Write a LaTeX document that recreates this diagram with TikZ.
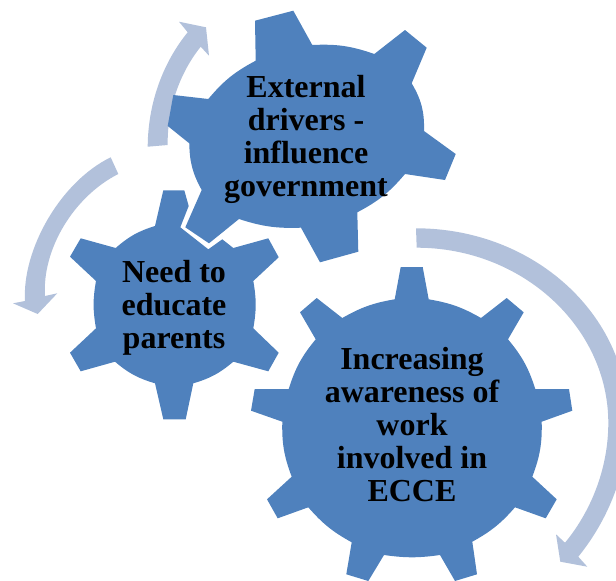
\documentclass[tikz,border=0pt]{standalone}
\usepackage{fontspec}
\setmainfont{Liberation Serif}
\tikzset{
  gearshape/.style={fill=gearblue,draw=none},
  flowarrow/.style={fill=arrowblue,draw=none},
  gearlabel/.style={align=center,font=\fontsize{32}{33}\selectfont\bfseries,text=black,inner sep=0pt},
  arc/.style={bend left=#1}
}
\definecolor{gearblue}{HTML}{4F81BD}
\definecolor{arrowblue}{HTML}{B2C1DB}
\begin{document}
\begin{tikzpicture}[x=1pt,y=-1pt]
\useasboundingbox (0,0) rectangle (616,581);
\clip (0,0) rectangle (616,581);
% arrows
\fill[flowarrow] (147.7,146.7) .. controls (148,100) and (165,60) .. (187.7,32.3)
  -- (179,21.7) -- (206,27.3) -- (209,55.7) -- (200.7,46.7)
  .. controls (182,70) and (167,105) .. (167.7,145) -- cycle;
\fill[flowarrow] (110.7,157.3) .. controls (60,182) and (22,250) .. (25,301)
  -- (13,303.3) -- (37.7,314) -- (57.3,293.3) -- (45,296)
  .. controls (42,250) and (73,197) .. (118.3,174) -- cycle;
\fill[flowarrow] (416,228.3) .. controls (533,228.3) and (628,314) .. (628,420)
  .. controls (628,472) and (608,520) .. (578.3,556.7)
  -- (587.3,566.7) -- (560.3,561.7) -- (556,534.3) -- (565,542.7)
  .. controls (592,510) and (608.3,467) .. (608.3,423)
  .. controls (608.3,327) and (522,247.7) .. (416.7,247.7) -- cycle;
% gear: external drivers
\fill[gearshape] (255,20.7) -- (293.3,10.7) -- (312.3,45)
  to[arc=11] (374.3,54) -- (405,30) -- (426.7,47.7) -- (411.7,83.3)
  to[arc=16] (424,131) -- (455.7,154) -- (445,180) -- (405,174)
  to[arc=11] (357.3,212.3) -- (358.3,251.7) -- (320,262.3) -- (301,227.7)
  to[arc=10] (239,219) -- (209,243.3) -- (185.3,227.3) -- (201.7,190)
  to[arc=14] (189.3,143.3) -- (167.7,126) -- (173.3,95) -- (208.3,99)
  to[arc=11] (255.7,60.7) -- cycle;
% gear: need to educate parents
\fill[gearshape] (163.3,190.3) -- (184.3,190.3) -- (188.7,206) -- (180.3,227.3)
  -- (208.3,249.3) -- (222.3,239.3) -- (233.3,248) -- (268.3,238.3)
  -- (278.7,257.3) -- (253.3,281) to[arc=10] (253.3,328.3)
  -- (278.7,352.7) -- (268.3,371.3) -- (233.3,361.7) to[arc=12] (193.3,383.3)
  -- (185.7,419.3) -- (163.3,419.3) -- (155,383.3) to[arc=12] (115,361.7)
  -- (80.7,371.3) -- (70,352.7) -- (96,328.3) to[arc=10] (96,281)
  -- (70,256.7) -- (80.7,238.3) -- (115.7,248) to[arc=12] (155,226) -- cycle;
% gear: increasing awareness
\fill[gearshape] (400.7,267) -- (422.7,267) -- (428.7,299.3) to[arc=10] (481,318)
  -- (506.7,298) -- (523.7,312.3) -- (508,339.3) to[arc=11] (535.3,389)
  -- (569,389) -- (572.3,410.7) -- (541.7,421.7) to[arc=11] (532.3,476.7)
  -- (556.7,499.3) -- (545.7,518.3) -- (515,507.3) to[arc=10] (472.3,541.7)
  -- (477,574.3) -- (455,581) -- (440,555) to[arc=8] (384,555)
  -- (368.3,581) -- (346.3,574.3) -- (351.7,542.3) to[arc=10] (308.3,507.3)
  -- (277.7,518.3) -- (267,499.3) -- (291.7,476.7) to[arc=11] (282.3,421.7)
  -- (251,410.7) -- (254.7,389) -- (288.7,389) to[arc=11] (315.7,339.3)
  -- (300,312.3) -- (316.7,298) -- (342.3,318) to[arc=10] (394.7,299.3) -- cycle;
% labels
\node[gearlabel] (external) at (306,139) {External\\drivers -\\influence\\government};
\node[gearlabel] (parents) at (174,308) {Need to\\educate\\parents};
\node[gearlabel] (ecce) at (412,424.7) {Increasing\\awareness of\\work\\involved in\\ECCE};
\end{tikzpicture}
\end{document}
